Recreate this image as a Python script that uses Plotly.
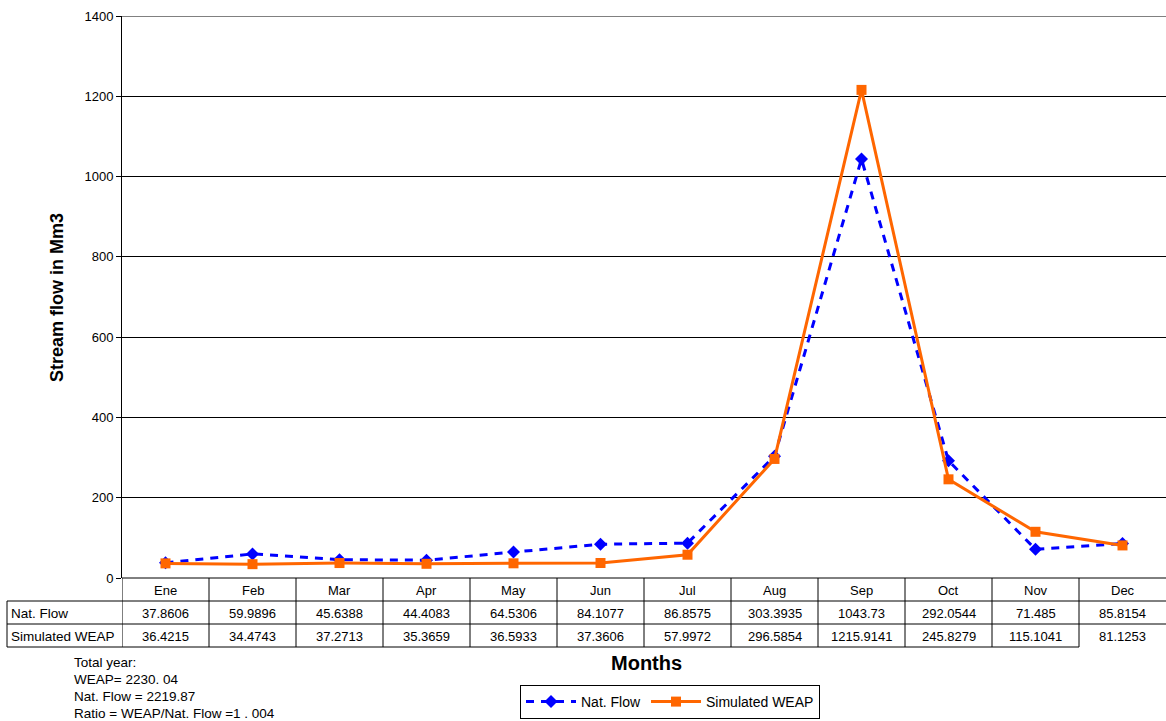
import plotly.graph_objects as go

# Monthly stream flow (Mm3)
months = ["Ene", "Feb", "Mar", "Apr", "May", "Jun", "Jul", "Aug", "Sep", "Oct", "Nov", "Dec"]
nat_flow = [37.8606, 59.9896, 45.6388, 44.4083, 64.5306, 84.1077, 86.8575,
            303.3935, 1043.73, 292.0544, 71.485, 85.8154]
nat_flow_text = ["37.8606", "59.9896", "45.6388", "44.4083", "64.5306", "84.1077", "86.8575",
                 "303.3935", "1043.73", "292.0544", "71.485", "85.8154"]
sim_weap = [36.4215, 34.4743, 37.2713, 35.3659, 36.5933, 37.3606, 57.9972,
            296.5854, 1215.9141, 245.8279, 115.1041, 81.1253]
sim_weap_text = ["36.4215", "34.4743", "37.2713", "35.3659", "36.5933", "37.3606", "57.9972",
                 "296.5854", "1215.9141", "245.8279", "115.1041", "81.1253"]
y_ticks = [0, 200, 400, 600, 800, 1000, 1200, 1400]
summary_lines = ["Total year:", "WEAP= 2230. 04", "Nat. Flow = 2219.87",
                 "Ratio = WEAP/Nat. Flow =1 . 004"]

FONT = "Arial, Liberation Sans, sans-serif"
W, H = 1166, 721
L, R, T, B = 122, 0, 16, 143
PW, PH = W - L - R, H - T - B

def py(pix):
    """pixel row -> paper y"""
    return (H - B - pix) / PH

def px(pix):
    """pixel column -> paper x"""
    return (pix - L) / PW

xs = list(range(len(months)))

fig = go.Figure()
fig.add_trace(go.Scatter(
    x=xs, y=nat_flow, name="Nat. Flow", mode="lines+markers",
    line=dict(color="#0000FF", width=3, dash="8px,7px"),
    marker=dict(symbol="diamond", size=10, color="#0000FF"),
))
fig.add_trace(go.Scatter(
    x=xs, y=sim_weap, name="Simulated WEAP", mode="lines+markers",
    line=dict(color="#FF6600", width=3),
    marker=dict(symbol="square", size=10, color="#FF6600"),
))

shapes = []
annotations = []

# top border of the value area
shapes.append(dict(type="line", xref="paper", yref="y", x0=0, x1=1, y0=1400, y1=1400,
                   line=dict(color="#808080", width=2)))

# data table below the axis
row_lines = [601, 624, 647]
for i, yl in enumerate(row_lines):
    x1 = 1 if i < 2 else px(L + 87 * 11)
    shapes.append(dict(type="line", xref="paper", yref="paper", x0=px(7), x1=x1,
                       y0=py(yl), y1=py(yl), line=dict(color="black", width=1)))
shapes.append(dict(type="line", xref="paper", yref="paper", x0=px(7), x1=px(7),
                   y0=py(601), y1=py(647), line=dict(color="black", width=1)))
for k in range(len(months)):
    shapes.append(dict(type="line", xref="x", yref="paper", x0=k - 0.5, x1=k - 0.5,
                       y0=0, y1=py(647), line=dict(color="black", width=1)))
shapes.append(dict(type="line", xref="paper", yref="paper", x0=0, x1=1, y0=0, y1=0,
                   line=dict(color="black", width=1)))

cell_font = dict(family=FONT, size=13, color="black")
for k, m in enumerate(months):
    for text, row_y in ((m, 590), (nat_flow_text[k], 613), (sim_weap_text[k], 636)):
        annotations.append(dict(x=k, y=py(row_y), xref="x", yref="paper", text=text,
                                xanchor="center", yanchor="middle",
                                showarrow=False, font=cell_font))
for text, row_y in (("Nat. Flow", 613), ("Simulated WEAP", 636)):
    annotations.append(dict(x=px(9), y=py(row_y), xref="paper", yref="paper", text=text,
                            xanchor="left", yanchor="middle", showarrow=False,
                            font=dict(family=FONT, size=13.5, color="black")))

# axis titles
annotations.append(dict(x=px(646), y=py(663), xref="paper", yref="paper", text="<b>Months</b>",
                        xanchor="center", yanchor="middle",
                        showarrow=False, font=dict(family=FONT, size=20, color="black")))
annotations.append(dict(x=px(57), y=py(298), xref="paper", yref="paper",
                        text="<b>Stream flow in Mm3</b>", textangle=-90,
                        xanchor="center", yanchor="middle",
                        showarrow=False, font=dict(family=FONT, size=18, color="black")))

# yearly totals
for i, line in enumerate(summary_lines):
    annotations.append(dict(x=px(72), y=py(662 + 17 * i), xref="paper", yref="paper",
                            text=line, xanchor="left", yanchor="middle", showarrow=False,
                            font=dict(family=FONT, size=13.5, color="black")))

fig.update_layout(
    width=W, height=H,
    margin=dict(l=L, r=R, t=T, b=B, autoexpand=False),
    paper_bgcolor="white", plot_bgcolor="white",
    font=dict(family=FONT, size=13, color="black"),
    showlegend=True,
    legend=dict(orientation="h", x=px(670), y=py(719), xanchor="center", yanchor="bottom",
                bordercolor="black", borderwidth=1, bgcolor="white",
                font=dict(family=FONT, size=14, color="black"),
                itemwidth=50, tracegroupgap=0),
    xaxis=dict(range=[-0.5, 11.5], showgrid=False, showticklabels=False, zeroline=False,
               showline=False, ticks=""),
    yaxis=dict(range=[0, 1400], tickvals=y_ticks, showgrid=True, gridcolor="black",
               gridwidth=1, zeroline=False, showline=True, linecolor="black", linewidth=1,
               ticks="outside", ticklen=5, tickcolor="black",
               tickfont=dict(family=FONT, size=13, color="black")),
    shapes=shapes,
    annotations=annotations,
)

fig.write_html("out.html")
